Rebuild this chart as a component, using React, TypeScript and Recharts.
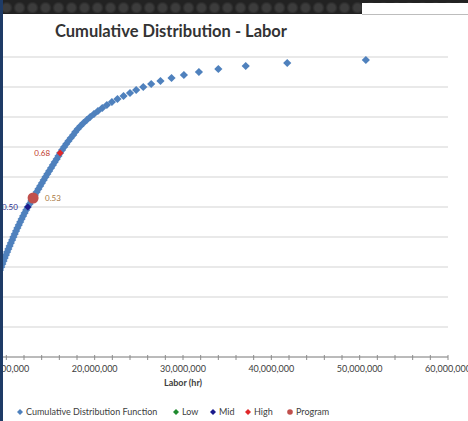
import { ScatterChart, Scatter, XAxis, YAxis, CartesianGrid } from 'recharts'

// cumulative probability levels and the labor hours (millions) at each level
const cdfProbability = [
  0.25, 0.26, 0.27, 0.28, 0.29, 0.3, 0.31, 0.32, 0.33, 0.34, 0.35, 0.36, 0.37, 0.38, 0.39,
  0.4, 0.41, 0.42, 0.43, 0.44, 0.45, 0.46, 0.47, 0.48, 0.49, 0.5, 0.51, 0.52, 0.53, 0.54,
  0.55, 0.56, 0.57, 0.58, 0.59, 0.6, 0.61, 0.62, 0.63, 0.64, 0.65, 0.66, 0.67, 0.68, 0.69,
  0.7, 0.71, 0.72, 0.73, 0.74, 0.75, 0.76, 0.77, 0.78, 0.79, 0.8, 0.81, 0.82, 0.83, 0.84,
  0.85, 0.86, 0.87, 0.88, 0.89, 0.9, 0.91, 0.92, 0.93, 0.94, 0.95, 0.96, 0.97, 0.98, 0.99,
]
const cdfLabor = [
  8.7, 8.85, 9.0, 9.14, 9.28, 9.42, 9.55, 9.68, 9.81, 9.95, 10.09, 10.23, 10.37, 10.51, 10.66,
  10.8, 10.95, 11.1, 11.25, 11.41, 11.57, 11.73, 11.9, 12.07, 12.25, 12.43, 12.63, 12.83, 13.03, 13.23,
  13.43, 13.63, 13.83, 14.03, 14.23, 14.43, 14.64, 14.85, 15.06, 15.27, 15.48, 15.7, 15.9, 16.09, 16.31,
  16.54, 16.78, 17.03, 17.29, 17.57, 17.8, 18.08, 18.39, 18.73, 19.1, 19.49, 19.92, 20.37, 20.86, 21.38,
  21.95, 22.58, 23.27, 24.0, 24.7, 25.5, 26.4, 27.45, 28.7, 30.1, 31.8, 34.0, 37.1, 41.8, 50.7,
]

const midLabor = [12.43]
const midProb = [0.5]
const highLabor = [16.09]
const highProb = [0.68]
const programLabor = [13.03]
const programProb = [0.53]

const xTicks = [
  0, 2, 4, 6, 8, 10, 12, 14, 16, 18, 20, 22, 24, 26, 28, 30, 32, 34, 36, 38, 40,
  42, 44, 46, 48, 50, 52, 54, 56, 58, 60,
]
const yTicks = [0, 0.1, 0.2, 0.3, 0.4, 0.5, 0.6, 0.7, 0.8, 0.9, 1]

const legendNames = ['Cumulative Distribution Function', 'Low', 'Mid', 'High', 'Program']
const legendColors = ['#4f81bd', '#1e8a2e', '#1a1a8c', '#e0282a', '#c0504d']
const legendLeft = [17, 173, 210, 245, 287]

const toRows = (xs: number[], ps: number[]) => xs.map((x, i) => ({ labor: x, prob: ps[i] }))

const FONT = 'Lato, "Open Sans", sans-serif'

const diamond = (fill: string, half: number) => (props: any) => {
  const { cx, cy } = props
  return (
    <polygon
      points={`${cx},${cy - half} ${cx + half},${cy} ${cx},${cy + half} ${cx - half},${cy}`}
      fill={fill}
    />
  )
}

const labelled =
  (fill: string, textColor: string, side: 'left' | 'right', kind: 'diamond' | 'circle', gap: number) =>
  (props: any) => {
    const { cx, cy, payload } = props
    const tx = side === 'left' ? cx - gap : cx + gap
    return (
      <g>
        {kind === 'circle' ? (
          <circle cx={cx} cy={cy} r={5.5} fill={fill} />
        ) : (
          <polygon
            points={`${cx},${cy - 3.5} ${cx + 3.5},${cy} ${cx},${cy + 3.5} ${cx - 3.5},${cy}`}
            fill={fill}
          />
        )}
        <text
          x={tx}
          y={cy + 3}
          textAnchor={side === 'left' ? 'end' : 'start'}
          fontSize={8}
          fontFamily={FONT}
          fill={textColor}
        >
          {payload.prob.toFixed(2)}
        </text>
      </g>
    )
  }

function LaborTick({ x, y, payload }: any) {
  const major = payload.value % 10 === 0
  return (
    <g>
      <line x1={x} x2={x} y1={y - 2} y2={y + 3} stroke="#8c8c8c" strokeWidth={1} />
      {major && (
        <text x={x} y={y + 15} textAnchor="middle" fontSize={9} fontFamily={FONT} fill="#404040">
          {(payload.value * 1000000).toLocaleString('en-US')}
        </text>
      )}
    </g>
  )
}

export default function App() {
  return (
    <div
      style={{
        position: 'absolute',
        left: 0,
        top: 0,
        width: 468,
        height: 421,
        overflow: 'hidden',
        background: '#ffffff',
        fontFamily: FONT,
      }}
    >
      <div style={{ position: 'absolute', left: -100, top: 0 }}>
        <ScatterChart width={568} height={389} margin={{ top: 57, right: 20, left: 18, bottom: 0 }}>
          <CartesianGrid vertical={false} stroke="#d4d4d4" strokeWidth={1.2} />
          <XAxis
            type="number"
            dataKey="labor"
            domain={[0, 60]}
            ticks={xTicks}
            interval={0}
            tickSize={0}
            tickMargin={0}
            tick={<LaborTick />}
            height={32}
            axisLine={{ stroke: '#8c8c8c' }}
            label={{
              value: 'Labor (hr)',
              position: 'insideBottom',
              offset: 3,
              fontSize: 9,
              fontWeight: 700,
              fill: '#404040',
              fontFamily: FONT,
            }}
          />
          <YAxis type="number" dataKey="prob" domain={[0, 1]} ticks={yTicks} hide />
          <Scatter
            data={toRows(cdfLabor, cdfProbability)}
            shape={diamond('#4f81bd', 4.1)}
            isAnimationActive={false}
          />
          <Scatter
            data={toRows(programLabor, programProb)}
            shape={labelled('#c0504d', '#a8773f', 'right', 'circle', 12)}
            isAnimationActive={false}
          />
          <Scatter
            data={toRows(midLabor, midProb)}
            shape={labelled('#1a1a8c', '#2a2a8c', 'left', 'diamond', 10)}
            isAnimationActive={false}
          />
          <Scatter
            data={toRows(highLabor, highProb)}
            shape={labelled('#e0282a', '#c0392b', 'left', 'diamond', 10)}
            isAnimationActive={false}
          />
        </ScatterChart>
      </div>

      <div
        style={{
          position: 'absolute',
          left: 55,
          top: 21,
          fontSize: 16.5,
          fontWeight: 700,
          color: '#333333',
          whiteSpace: 'nowrap',
        }}
      >
        Cumulative Distribution - Labor
      </div>

      {legendNames.map((name, i) => (
        <div
          key={name}
          style={{
            position: 'absolute',
            left: legendLeft[i],
            top: 406,
            display: 'flex',
            alignItems: 'center',
            fontSize: 9,
            color: '#404040',
            whiteSpace: 'nowrap',
          }}
        >
          <svg width={6} height={6} style={{ marginRight: 3 }}>
            {name === 'Program' ? (
              <circle cx={3} cy={3} r={2.8} fill={legendColors[i]} />
            ) : (
              <polygon points="3,0 6,3 3,6 0,3" fill={legendColors[i]} />
            )}
          </svg>
          <span>{name}</span>
        </div>
      ))}

      <div
        style={{
          position: 'absolute',
          left: 0,
          top: 0,
          width: 468,
          height: 14,
          background: 'radial-gradient(circle at 50% 60%, #3c3c3c 35%, #222222 62%)',
          backgroundSize: '13px 13px',
        }}
      />
      <div
        style={{
          position: 'absolute',
          left: 362,
          top: 3,
          width: 106,
          height: 11,
          background: '#ffffff',
          borderBottom: '1px solid #bdbdbd',
        }}
      />
      <div style={{ position: 'absolute', left: 0, top: 0, width: 3, height: 421, background: '#1e3b66' }} />
    </div>
  )
}
